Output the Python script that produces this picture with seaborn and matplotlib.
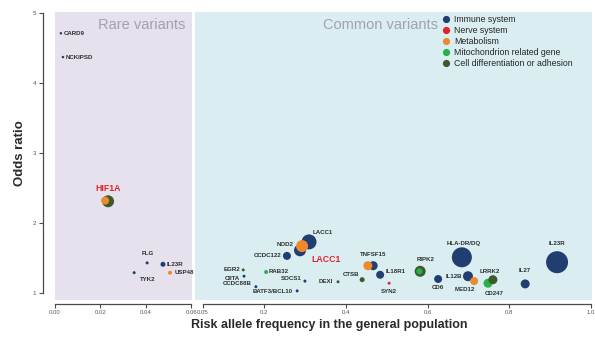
import matplotlib
matplotlib.use("Agg")
import matplotlib.pyplot as plt
from matplotlib.lines import Line2D
import pandas as pd
import seaborn as sns

sns.set_theme(style="white")
plt.rcParams["font.family"] = ["Liberation Sans", "DejaVu Sans"]

# ---------------------------------------------------------------- data
categories = ["Immune system", "Nerve system", "Metabolism",
              "Mitochondrion related gene", "Cell differentiation or adhesion"]

# rare variants (allele frequency < 0.06)
rare_genes = ["CARD9", "NCKIPSD", "HIF1A", "HIF1A", "FLG", "IL23R", "TYK2", "USP48"]
rare_freq = [0.0026, 0.0035, 0.0234, 0.0221, 0.0406, 0.0476, 0.0349, 0.0507]
rare_or = [4.71, 4.37, 2.31, 2.32, 1.43, 1.41, 1.29, 1.29]
rare_cat = ["Immune system", "Immune system", "Cell differentiation or adhesion",
            "Metabolism", "Immune system", "Immune system", "Immune system", "Metabolism"]
rare_circle = [2.5, 2.5, 12, 8, 3, 5, 3, 4]

# common variants
common_genes = ["HLA-DR/DQ", "IL23R", "LACC1", "NOD2", "LACC1", "CCDC122", "RAB32",
                "EGR2", "CIITA", "CCDC88B", "SOCS1", "BATF3/BCL10", "DEXI",
                "TNFSF15", "TNFSF15", "CTSB", "IL18R1", "SYN2", "RIPK2", "RIPK2",
                "CD6", "IL12B", "MED12", "CD247", "LRRK2", "IL27"]
common_freq = [0.684, 0.917, 0.310, 0.288, 0.293, 0.256, 0.205,
               0.149, 0.151, 0.180, 0.300, 0.281, 0.381,
               0.467, 0.454, 0.440, 0.484, 0.506, 0.582, 0.580,
               0.626, 0.699, 0.714, 0.748, 0.760, 0.839]
common_or = [1.51, 1.44, 1.73, 1.61, 1.67, 1.53, 1.30,
             1.33, 1.24, 1.09, 1.17, 1.03, 1.16,
             1.39, 1.39, 1.19, 1.26, 1.14, 1.31, 1.31,
             1.20, 1.24, 1.17, 1.14, 1.19, 1.13]
common_cat = ["Immune system", "Immune system", "Immune system", "Immune system",
              "Metabolism", "Immune system", "Mitochondrion related gene",
              "Cell differentiation or adhesion", "Immune system", "Immune system",
              "Immune system", "Immune system", "Cell differentiation or adhesion",
              "Immune system", "Metabolism", "Cell differentiation or adhesion",
              "Immune system", "Nerve system", "Cell differentiation or adhesion",
              "Mitochondrion related gene", "Immune system", "Immune system",
              "Metabolism", "Mitochondrion related gene",
              "Cell differentiation or adhesion", "Immune system"]
common_circle = [20, 22, 15, 12, 12, 8, 4,
                 3, 3, 3, 3, 3, 3,
                 9, 9, 5, 8, 3, 11, 6,
                 8, 10, 8, 9, 9, 9]

y_ticks = [1, 2, 3, 4, 5]
rare_x_ticks = [0.00, 0.02, 0.04, 0.06]
common_x_ticks = [0.05, 0.2, 0.4, 0.6, 0.8, 1.0]
common_x_ticklabels = ["0.05", "0.2", "0.4", "0.6", "0.8", "1.0"]

highlight = {"HIF1A", "LACC1"}

# ---------------------------------------------------------------- styling
palette = {
    "Immune system": "#203f70",
    "Nerve system": "#e3212b",
    "Metabolism": "#ee8a2c",
    "Mitochondrion related gene": "#27b14b",
    "Cell differentiation or adhesion": "#3e5a2c",
}
PX = 0.72  # points per pixel at 100 dpi

# label placement: (dx px, dy px, ha), one entry per row of each table
rare_label = [(3, 0, "left"), (3, 0, "left"), (0, 13, "center"), None,
              (1, 9, "center"), (4, 0, "left"), (6, -7, "left"), (5, 0, "left")]
common_label = [(2, 14, "center"), (0, 19, "center"), (4, 9, "left"), (-7, 6, "right"),
                (9, -13, "left"), (-6, 0, "right"), (3, 0, "left"),
                (-3, 0, "right"), (-4, -2, "right"), (-4, 3, "right"), (-3, 3, "right"),
                (-4, -1, "right"), (-5, 0, "right"),
                (0, 11, "center"), None, (-3, 5, "right"), (6, 3, "left"),
                (0, -8, "center"), (5, 12, "center"), None,
                (0, -9, "center"), (-6, 0, "right"), (1, -8, "right"),
                (-3, -10, "left"), (-3, 8, "center"), (0, 13, "center")]

rare = pd.DataFrame({"gene": rare_genes, "freq": rare_freq, "odds": rare_or,
                     "category": rare_cat, "circle": rare_circle})
common = pd.DataFrame({"gene": common_genes, "freq": common_freq, "odds": common_or,
                       "category": common_cat, "circle": common_circle})
for df in (rare, common):
    df["area"] = (df["circle"] * PX) ** 2

all_area = pd.concat([rare["area"], common["area"]])
amin, amax = all_area.min(), all_area.max()

fig = plt.figure(figsize=(5.95, 3.37), dpi=100)
ax_r = fig.add_axes([55 / 595, 37 / 337, 137 / 595, 288 / 337])
ax_c = fig.add_axes([195 / 595, 37 / 337, 397 / 595, 288 / 337])
ax_r.set_zorder(3)
ax_c.set_zorder(1)

ax_r.set_facecolor("#e6e1ed")
ax_c.set_facecolor("#daeef2")

for ax, df, labels in ((ax_r, rare, rare_label), (ax_c, common, common_label)):
    sns.scatterplot(data=df, x="freq", y="odds", hue="category", palette=palette,
                    size="area", sizes=(amin, amax), size_norm=(amin, amax),
                    linewidth=0, alpha=1, legend=False, ax=ax, zorder=3)
    for (_, row), lab in zip(df.iterrows(), labels):
        if lab is None:
            continue
        dx, dy, ha = lab
        hi = row["gene"] in highlight and (dy < 0 or ax is ax_r)
        ax.annotate(row["gene"], (row["freq"], row["odds"]),
                    xytext=(dx * PX, dy * PX), textcoords="offset points",
                    ha=ha, va="center",
                    fontsize=6.3 if hi else 4.4, fontweight="bold",
                    color="#e3242b" if hi else "#2e2e2e", zorder=4)

ylim = (0.9, 5.014)
ax_r.set_xlim(0.0, 0.0604)
ax_c.set_xlim(0.031, 1.0025)
for ax in (ax_r, ax_c):
    ax.set_ylim(*ylim)
    ax.set_xlabel("")
    ax.set_ylabel("")
    for s in ("top", "right"):
        ax.spines[s].set_visible(False)
    ax.spines["bottom"].set_position(("outward", 3))
    ax.spines["bottom"].set_color("#4a4a4a")
    ax.spines["bottom"].set_linewidth(0.9)
    ax.tick_params(axis="x", which="both", bottom=True, direction="out", length=3,
                   width=0.8, color="#4a4a4a", labelsize=4.3, labelcolor="#555555", pad=1.5)
    ax.grid(False)

ax_r.set_xticks(rare_x_ticks)
ax_r.set_xticklabels([f"{t:.2f}" for t in rare_x_ticks])
ax_r.spines["bottom"].set_bounds(rare_x_ticks[0], rare_x_ticks[-1])
ax_c.set_xticks(common_x_ticks)
ax_c.set_xticklabels(common_x_ticklabels)
ax_c.spines["bottom"].set_bounds(common_x_ticks[0], common_x_ticks[-1])

ax_r.spines["left"].set_position(("outward", 9))
ax_r.spines["left"].set_bounds(y_ticks[0], y_ticks[-1])
ax_r.spines["left"].set_color("#4a4a4a")
ax_r.spines["left"].set_linewidth(0.9)
ax_r.set_yticks(y_ticks)
ax_r.set_yticklabels([str(t) for t in y_ticks])
ax_r.tick_params(axis="y", left=True, direction="out", length=3, width=0.8,
                 color="#4a4a4a", labelsize=4.5, labelcolor="#555555", pad=1.5)
ax_c.spines["left"].set_visible(False)
ax_c.set_yticks([])

ax_r.text(0.949, 0.955, "Rare variants", transform=ax_r.transAxes, ha="right",
          va="center", fontsize=10.5, color="#a2a2ac", zorder=5)
ax_c.text(0.612, 0.955, "Common variants", transform=ax_c.transAxes, ha="right",
          va="center", fontsize=10.5, color="#a2a2ac", zorder=5)

handles = [Line2D([], [], marker="o", linestyle="", markersize=5.2,
                  markerfacecolor=palette[c], markeredgewidth=0) for c in categories]
ax_c.legend(handles, categories, loc="upper left", bbox_to_anchor=(0.621, 0.99),
            frameon=False, fontsize=6.3, handlelength=1.0, handletextpad=0.4,
            labelspacing=0.22, borderpad=0, borderaxespad=0)

fig.text(20 / 595, 1 - 153 / 337, "Odds ratio", rotation=90, ha="center", va="center",
         fontsize=9.5, fontweight="bold", color="#2a2a2a")
fig.text(329 / 595, 1 - 325 / 337, "Risk allele frequency in the general population",
         ha="center", va="center", fontsize=9, fontweight="bold", color="#2a2a2a")

fig.savefig("out.png", dpi=100, facecolor="white")
